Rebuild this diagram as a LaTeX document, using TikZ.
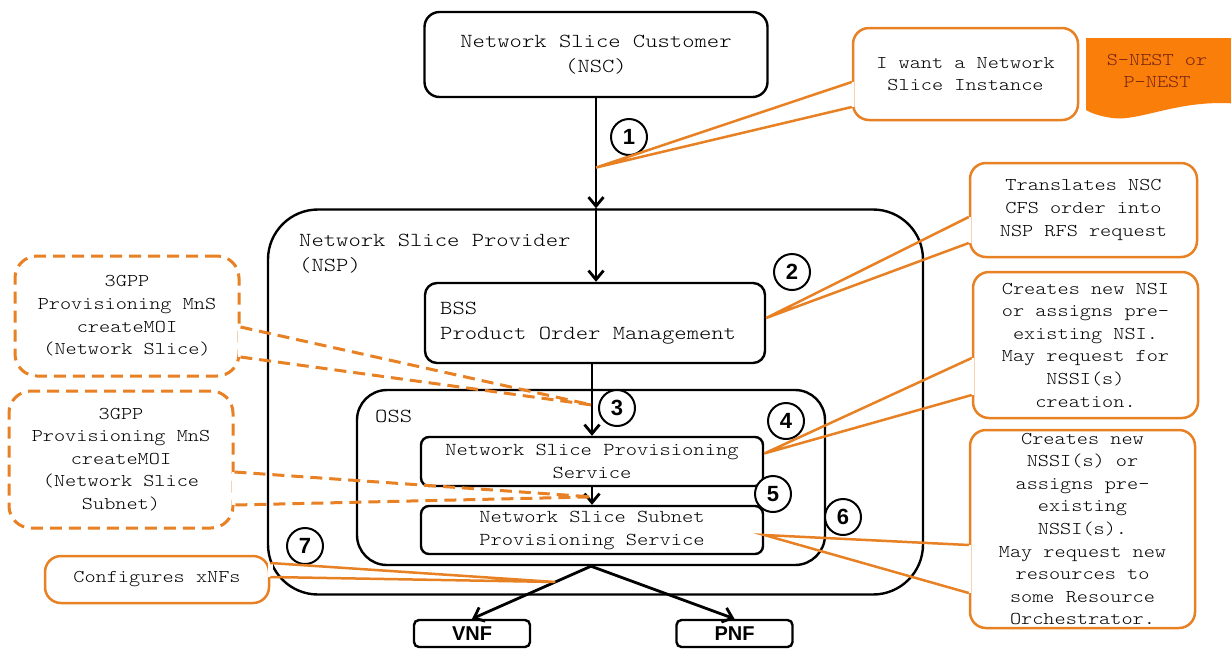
\documentclass[tikz,border=0pt]{standalone}
\usepackage{fontspec}
\setmainfont{Liberation Mono}
\newfontfamily\cour[FakeStretch=1.18]{lmmonolt10-regular.otf}
\newfontfamily\sansfont{Liberation Sans}
\usetikzlibrary{arrows.meta,calc}
\definecolor{corange}{RGB}{232,128,36}
\definecolor{cfill}{RGB}{250,126,10}
\definecolor{cdark}{RGB}{120,35,20}
\begin{document}
\begin{tikzpicture}[x=1pt,y=-1pt,
  blk/.style={draw=black, line width=2.4pt, fill=white},
  arr/.style={draw=black, line width=2.8pt, -{Straight Barb[length=9pt,width=15pt]}},
  bigtxt/.style={font=\cour\fontsize{19.9}{25}\selectfont},
  ctxt/.style={font=\cour\fontsize{18}{22.6}\selectfont},
  svtxt/.style={font=\cour\fontsize{18.2}{23}\selectfont},
  num/.style={circle, draw=black, line width=2pt, fill=white, minimum size=36pt, inner sep=0pt, font=\sansfont\bfseries\fontsize{22}{22}\selectfont},
  nf/.style={blk, rounded corners=5pt, minimum width=116pt, minimum height=27pt, inner sep=0pt, font=\sansfont\bfseries\fontsize{20}{20}\selectfont},
  cbox/.style={draw=corange, line width=2.5pt, rounded corners=16pt, fill=white, align=center, inner sep=0pt, ctxt},
  dbox/.style={cbox, dash pattern=on 12pt off 7pt, line width=3pt, rounded corners=22pt},
  wedge/.style={draw=corange, line width=2.5pt, line join=miter},
  dwedge/.style={wedge, dash pattern=on 12pt off 7pt, line width=3pt},
  gap/.style={draw=white, line width=5pt}]
\useasboundingbox (0,0) rectangle (1231,649);
\fill[white] (0,0) rectangle (1231,649);

% main boxes
\node[blk, rounded corners=50pt, minimum width=655pt, minimum height=385pt] (nsp) at (595.5,402) {};
\node[bigtxt, anchor=west, align=left, inner sep=0pt] (nsptxt) at (299,254) {Network Slice Provider\\(NSP)};
\node[blk, rounded corners=30pt, minimum width=468pt, minimum height=175pt] (oss) at (591,477.5) {};
\node[bigtxt, anchor=west, inner sep=0pt] (osstxt) at (375,416) {OSS};
\node[blk, rounded corners=15pt, minimum width=343pt, minimum height=85pt, bigtxt, align=center] (nsc) at (596,54.5) {Network Slice Customer\\(NSC)};
\node[blk, rounded corners=12pt, minimum width=340pt, minimum height=80pt] (bss) at (595,323) {};
\node[bigtxt, anchor=west, align=left, inner sep=0pt] (bsstxt) at (440,323) {BSS\\Product Order Management};
\node[blk, rounded corners=8pt, minimum width=342pt, minimum height=49pt, svtxt, align=center, inner sep=0pt] (nsps) at (592,461.5) {Network Slice Provisioning\\Service};
\node[blk, rounded corners=8pt, minimum width=342pt, minimum height=48pt, svtxt, align=center, inner sep=0pt] (nssps) at (592,530) {Network Slice Subnet\\Provisioning Service};
\node[nf] (vnf) at (472,633.5) {VNF};
\node[nf] (pnf) at (734.5,633.5) {PNF};

% arrows
\coordinate (nspin) at (nsc.south |- nsp.north);
\draw[arr] (nsc.south) -- (nspin);
\draw[arr] (nspin) -- (nsc.south |- bss.north);
\draw[arr] (bss.south -| nsps.north) -- (nsps.north);
\draw[arr] (nsps.south) -- (nssps.north);
\draw[arr] (oss.south) -- (vnf.north);
\draw[arr] (oss.south) -- (pnf.north);

% numbered circles
\node[num] (n1) at (629,137) {1};
\node[num] (n2) at (792,272) {2};
\node[num] (n3) at (617,408) {3};
\node[num] (n4) at (786,421) {4};
\node[num] (n5) at (773,494) {5};
\node[num] (n6) at (843,517) {6};
\node[num] (n7) at (305,546) {7};

% tip coordinates
\coordinate (tipa) at ($(nsc.south)!0.63!(nspin)$);
\coordinate (tipb) at ([yshift=5pt]bss.east);
\coordinate (tipc) at ([yshift=8pt]nsps.east);
\coordinate (tipd) at ([yshift=-5pt]nssps.east);
\coordinate (tipe) at ($(oss.south)!0.3!(vnf.north)$);
\coordinate (tipf) at ($(bss.south -| nsps.north)!0.57!(nsps.north)$);
\coordinate (tipg) at ($(nsps.south)!0.55!(nssps.north)$);

% callout A
\node[cbox, minimum width=225pt, minimum height=92pt] (ca) at (965.5,74) {I want a Network\\Slice Instance};
\path (ca.west) ++(0,8) coordinate (ca1) ++(0,25) coordinate (ca2);
\draw[gap] (ca1) -- (ca2);
\draw[wedge] (ca1) -- (tipa) -- (ca2);

% callout B
\node[cbox, minimum width=227pt, minimum height=94pt] (cb) at (1083.5,210) {Translates NSC\\CFS order into\\NSP RFS request};
\path (cb.west) ++(0,7) coordinate (cb1) ++(0,26) coordinate (cb2);
\draw[gap] (cb1) -- (cb2);
\draw[wedge] (cb1) -- (tipb) -- (cb2);

% callout C
\node[cbox, minimum width=225pt, minimum height=146pt] (cc) at (1085.5,345) {Creates new NSI\\or assigns pre-\\existing NSI.\\May request for\\NSSI(s)\\creation.};
\path (cc.west) ++(0,13) coordinate (cc1) ++(0,37) coordinate (cc2);
\draw[gap] (cc1) -- (cc2);
\draw[wedge] (cc1) -- (tipc) -- (cc2);

% callout D
\node[cbox, minimum width=225pt, minimum height=198pt] (cd) at (1082.5,529) {};
\node[ctxt, align=center, inner sep=0pt] (cdtxt) at (cd.center) {Creates new\\NSSI(s) or\\assigns pre-\\existing\\NSSI(s).\\May request new\\resources to\\some Resource\\Orchestrator.};
\path (cd.west) ++(0,16) coordinate (cd1) ++(0,48) coordinate (cd2);
\draw[gap] (cd1) -- (cd2);
\draw[wedge] (cd1) -- (tipd) -- (cd2);

% callout E
\node[cbox, minimum width=224pt, minimum height=47pt] (ce) at (157,579.5) {Configures xNFs};
\path (ce.east) ++(0,-16.5) coordinate (ce1) ++(0,14) coordinate (ce2);
\draw[gap] (ce1) -- (ce2);
\draw[wedge] (ce1) -- (tipe) -- (ce2);

% dashed callout F
\node[dbox, minimum width=224pt, minimum height=120pt] (cf) at (127,316) {3GPP\\Provisioning MnS\\createMOI\\(Network Slice)};
\path (cf.east) ++(0,11) coordinate (cf1) ++(0,30) coordinate (cf2);
\draw[gap] (cf1) -- (cf2);
\draw[dwedge] (cf1) -- (tipf) -- (cf2);

% dashed callout G
\node[dbox, minimum width=224pt, minimum height=137pt] (cg) at (121,459.5) {3GPP\\Provisioning MnS\\createMOI\\(Network Slice\\Subnet)};
\path (cg.east) ++(0,12.5) coordinate (cg1) ++(0,33) coordinate (cg2);
\draw[gap] (cg1) -- (cg2);
\draw[dwedge] (cg1) -- (tipg) -- (cg2);

% S-NEST / P-NEST banner
\fill[cfill] (1086,38) -- (1240,38) -- (1240,104) .. controls (1180,98) and (1140,122) .. (1112,118) .. controls (1099,116) and (1091,113) .. (1086,110) -- cycle;
\node[ctxt, text=cdark, align=center, inner sep=0pt] (nest) at (1157,71) {S-NEST or\\P-NEST};
\end{tikzpicture}
\end{document}
